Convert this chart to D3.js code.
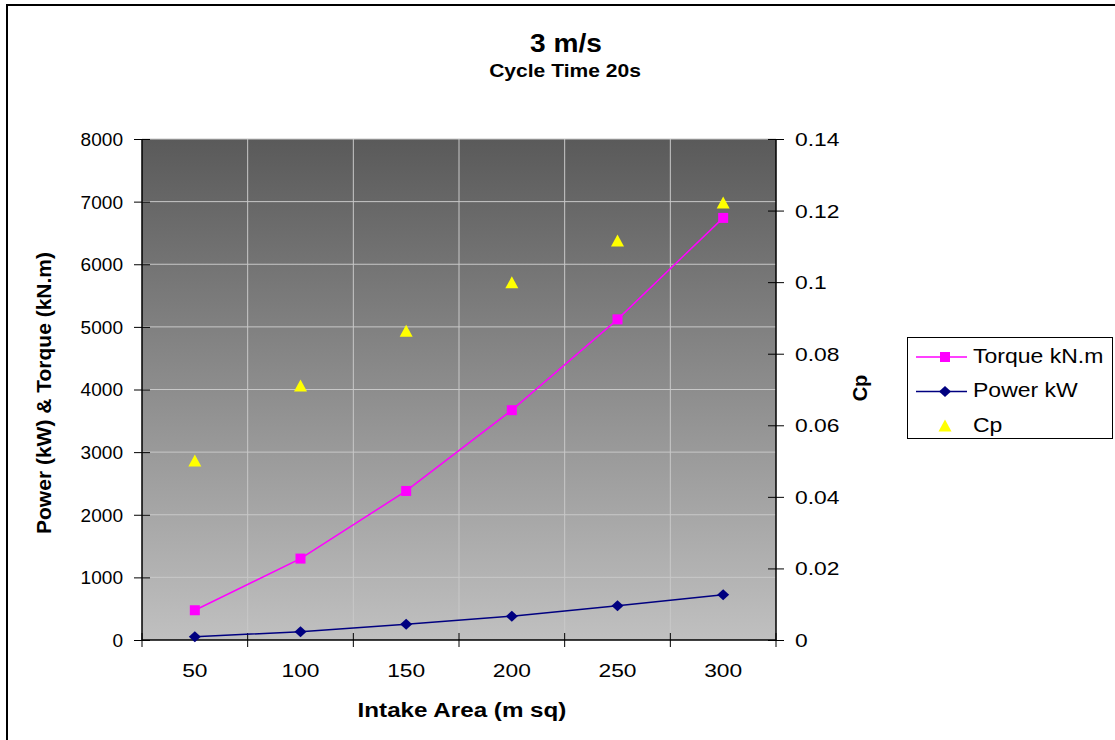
<!DOCTYPE html>
<html><head><meta charset="utf-8">
<script src="https://cdn.jsdelivr.net/npm/d3@7"></script>
<style>body{margin:0;background:#fff}svg{display:block}text{font-family:"Liberation Sans",Arial,sans-serif}</style>
</head><body>
<svg id="c" width="1115" height="740"></svg>
<script>
const categories = [50, 100, 150, 200, 250, 300];
const torque = [475, 1300, 2380, 3670, 5120, 6740];
const power = [50, 133, 252, 380, 548, 723];
const cp = [0.050, 0.071, 0.0863, 0.0998, 0.1115, 0.1221];
const leftTicks = [0,1000,2000,3000,4000,5000,6000,7000,8000];
const rightTicks = [0,0.02,0.04,0.06,0.08,0.1,0.12,0.14];

const svg = d3.select("#c");
const L=142, R=776, T=139, B=640;

// outer border
svg.append("rect").attr("x",7).attr("y",5).attr("width",1120).attr("height",760)
  .attr("fill","#fff").attr("stroke","#000").attr("stroke-width",2);

const defs = svg.append("defs");
const g = defs.append("linearGradient").attr("id","bg").attr("x1",0).attr("y1",0).attr("x2",0).attr("y2",1);
g.append("stop").attr("offset","0").attr("stop-color","#5a5a5a");
g.append("stop").attr("offset","1").attr("stop-color","#c0c0c0");

const xBand = d3.scaleBand().domain(categories).range([L,R]).padding(0);
const yL = d3.scaleLinear().domain([0,8000]).range([B,T]);
const yR = d3.scaleLinear().domain([0,0.14]).range([B,T]);

svg.append("rect").attr("x",L).attr("y",T).attr("width",R-L).attr("height",B-T).attr("fill","url(#bg)");

// gridlines
svg.append("g").selectAll("line").data(leftTicks.slice(1)).join("line")
  .attr("x1",L).attr("x2",R).attr("y1",d=>yL(d)).attr("y2",d=>yL(d))
  .attr("stroke","#c8c8c8").attr("stroke-width",1);
const bounds = categories.slice(1).map(c=>xBand(c));
svg.append("g").selectAll("line").data(bounds).join("line")
  .attr("x1",d=>d).attr("x2",d=>d).attr("y1",T).attr("y2",B)
  .attr("stroke","#c8c8c8").attr("stroke-width",1);

// axes
const sL = 1.06, sR = 1.27, sX = 1.2;
const axL = d3.axisLeft(yL).tickValues(leftTicks).tickSize(8).tickPadding(11).tickFormat(d3.format("d"));
const gl = svg.append("g").attr("transform",`translate(${L},0)`).call(axL);
gl.select(".domain").attr("d",`M0,${T}V${B}`).attr("stroke","#000").attr("stroke-width",1.5);
gl.selectAll(".tick line").attr("x2",-8).attr("x1",8).attr("stroke","#000");
gl.selectAll("text").style("font-size","18px").attr("fill","#000").attr("dy","0.36em")
  .attr("x",-19/sL).attr("transform",`scale(${sL},1)`);

const axR = d3.axisRight(yR).tickValues(rightTicks).tickSize(8).tickPadding(11).tickFormat(d=>d===0?"0":String(+d.toFixed(2)));
const gr = svg.append("g").attr("transform",`translate(${R},0)`).call(axR);
gr.select(".domain").attr("d",`M0,${T}V${B}`).attr("stroke","#000").attr("stroke-width",1.5);
gr.selectAll(".tick line").attr("x1",-8).attr("x2",8).attr("stroke","#000");
gr.selectAll("text").style("font-size","18px").attr("fill","#000").attr("dy","0.36em")
  .attr("x",19/sR).attr("transform",`scale(${sR},1)`);

// x axis
svg.append("line").attr("x1",L).attr("x2",R).attr("y1",B).attr("y2",B).attr("stroke","#000").attr("stroke-width",1.5);
const xt = [L].concat(bounds).concat([R]);
svg.append("g").selectAll("line").data(xt).join("line")
  .attr("x1",d=>d).attr("x2",d=>d).attr("y1",B-7).attr("y2",B+7).attr("stroke","#000");
svg.append("g").selectAll("text").data(categories).join("text")
  .attr("transform",d=>`translate(${xBand(d)+xBand.bandwidth()/2},677) scale(${sX},1)`).attr("text-anchor","middle")
  .style("font-size","19px").text(d=>d);

const cx = d=>xBand(d)+xBand.bandwidth()/2;

// lines
const lineT = d3.line().x((d,i)=>cx(categories[i])).y(d=>yL(d));
svg.append("path").attr("d",lineT(torque)).attr("fill","none").attr("stroke","#ff00ff").attr("stroke-width",1.5);
svg.append("path").attr("d",lineT(power)).attr("fill","none").attr("stroke","#000080").attr("stroke-width",1.5);

svg.append("g").selectAll("rect").data(torque).join("rect")
  .attr("x",(d,i)=>cx(categories[i])-5).attr("y",d=>yL(d)-5).attr("width",10).attr("height",10).attr("fill","#ff00ff");
const diamondD = "M0,-5.5L6,0L0,5.5L-6,0Z";
svg.append("g").selectAll("path").data(power).join("path")
  .attr("d",diamondD).attr("transform",(d,i)=>`translate(${cx(categories[i])},${yL(d)})`).attr("fill","#000080");
const triD = "M0,-6.5L6.5,5.5L-6.5,5.5Z";
svg.append("g").selectAll("path").data(cp).join("path")
  .attr("d",triD).attr("transform",(d,i)=>`translate(${cx(categories[i])},${yR(d)})`).attr("fill","#ffff00");

// titles
function stext(x,y,sx,size,weight,anchor,txt){
  return svg.append("text").attr("transform",`translate(${x},${y}) scale(${sx},1)`).attr("text-anchor",anchor)
    .style("font-size",size).style("font-weight",weight).text(txt);
}
stext(566,52,1.08,"26px","bold","middle","3 m/s");
stext(565,77,1.17,"18px","bold","middle","Cycle Time 20s");
stext(462,717,1.21,"20px","bold","middle","Intake Area (m sq)");
svg.append("text").attr("transform","translate(51,393) rotate(-90)").attr("text-anchor","middle").style("font-size","21px").style("font-weight","bold").text("Power (kW) & Torque (kN.m)");
svg.append("text").attr("transform","translate(867,388) rotate(-90)").attr("text-anchor","middle").style("font-size","20px").style("font-weight","bold").text("Cp");

// legend
svg.append("rect").attr("x",907.5).attr("y",337.5).attr("width",205).attr("height",101).attr("fill","#fff").attr("stroke","#000").attr("stroke-width",1);
const leg = [{n:"Torque kN.m",c:"#ff00ff",t:"sq",y:357},{n:"Power kW",c:"#000080",t:"di",y:391.5},{n:"Cp",c:"#ffff00",t:"tr",y:426}];
leg.forEach(l=>{
  if(l.t!=="tr") svg.append("line").attr("x1",916).attr("x2",967).attr("y1",l.y).attr("y2",l.y).attr("stroke",l.c).attr("stroke-width",1.5);
  if(l.t==="sq") svg.append("rect").attr("x",940).attr("y",l.y-5).attr("width",10).attr("height",10).attr("fill",l.c);
  if(l.t==="di") svg.append("path").attr("d",diamondD).attr("transform",`translate(945,${l.y})`).attr("fill",l.c);
  if(l.t==="tr") svg.append("path").attr("d",triD).attr("transform",`translate(945,${l.y})`).attr("fill",l.c);
  stext(973,l.y+5.5,1.15,"20px","normal","start",l.n);
});
</script>
</body></html>
